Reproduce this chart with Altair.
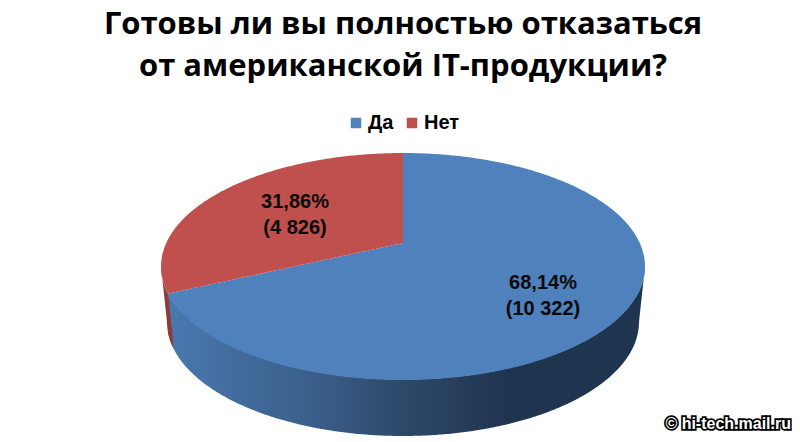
import numpy as np
import pandas as pd
import altair as alt

TITLE_LINES = ["Готовы ли вы полностью отказаться", "от американской IT-продукции?"]
CATEGORIES = ["Да", "Нет"]
SHARES = [68.14, 31.86]
COUNTS = ["10 322", "4 826"]
COLORS = ["#4F81BD", "#C0504D"]
CREDIT = "© hi-tech.mail.ru"

# Projection of the tilted disc, in picture units
CX, CY, RX, RY = 403.0, 266.5, 242.0, 113.5
AX, AY = 403.0, 243.0            # apex of the slices
LCY, LRX, LRY = 322.0, 236.0, 114.0  # rim of the lower edge
FORESHORTEN = 0.905              # perspective squeeze of the slice angle
t_cut = np.radians(SHARES[1] * 3.6 * FORESHORTEN)
BX, BY = CX - RX * np.sin(t_cut), CY - RY * np.cos(t_cut)
EPS = 0.01


def top(x):
    return CY - RY * np.sqrt(np.clip(1 - ((x - CX) / RX) ** 2, 0, 1))


def bot(x):
    return CY + RY * np.sqrt(np.clip(1 - ((x - CX) / RX) ** 2, 0, 1))


def low(x):
    x = np.asarray(x, float)
    inner = LCY + LRY * np.sqrt(np.clip(1 - ((x - CX) / LRX) ** 2, 0, 1))
    left = CY + (x - (CX - RX)) / (RX - LRX) * (LCY - CY)
    right = CY + ((CX + RX) - x) / (RX - LRX) * (LCY - CY)
    return np.where(x < CX - LRX, left, np.where(x > CX + LRX, right, inner))


def cut(x):
    return AY + (x - AX) / (BX - AX) * (BY - AY)


def xs(a, b, n=360):
    u = np.linspace(-np.pi, 0, n)
    v = CX + RX * np.cos(u)
    v = v[(v > a + EPS) & (v < b - EPS)]
    return np.concatenate([[a], v, [b]])


# slice tops
left_b = xs(BX, CX)
right_b = xs(CX + EPS, CX + RX)
blue = pd.DataFrame({
    "x": np.concatenate([left_b, right_b]),
    "y": np.concatenate([cut(left_b), top(right_b)]),
    "y2": np.concatenate([bot(left_b), bot(right_b)]),
})
blue["s"] = CATEGORIES[0]

xr = xs(CX - RX, CX)
red = pd.DataFrame({"x": xr, "y": top(xr), "y2": np.where(xr < BX, bot(xr), cut(xr))})
red["s"] = CATEGORIES[1]

# side wall
xw = xs(BX, CX + RX)
wall = pd.DataFrame({"x": xw, "y": bot(xw) - 0.5, "y2": low(xw)})

END = BX + 5
xv = np.concatenate([xs(CX - RX, BX, 360), np.linspace(BX, END, 8)[1:]])
inner_cut = BY + (xv - BX) / (END - BX) * 46
wall_r = pd.DataFrame({"x": xv, "y": np.where(xv <= BX, bot(xv), inner_cut), "y2": low(xv)})

X = alt.X("x:Q", axis=None, scale=alt.Scale(domain=[8, 792], nice=False, zero=False))
Y = alt.Y("y:Q", axis=None, scale=alt.Scale(domain=[442, 8], nice=False, zero=False))

wall_grad = alt.Gradient(
    gradient="linear", x1=0, x2=1, y1=0, y2=0,
    stops=[
        alt.GradientStop(offset=0, color="#4A78AE"),
        alt.GradientStop(offset=0.3, color="#3A5F8B"),
        alt.GradientStop(offset=0.5, color="#2D4868"),
        alt.GradientStop(offset=0.72, color="#1F344F"),
        alt.GradientStop(offset=1, color="#1F344F"),
    ],
)
wall_layer = alt.Chart(wall).mark_area(color=wall_grad).encode(x=X, y=Y, y2="y2:Q")
wall_r_layer = alt.Chart(wall_r).mark_area(color="#8F3A38").encode(x=X, y=Y, y2="y2:Q")

legend = alt.Legend(
    title=None, orient="none", legendX=338, legendY=105, direction="horizontal",
    symbolType="square", symbolSize=110, symbolStrokeWidth=0, symbolOpacity=1,
    labelFont="Liberation Sans", labelFontWeight="bold", labelFontSize=20, labelColor="#000000",
    columns=2, columnPadding=8, labelOffset=2,
)
color = alt.Color("s:N", legend=legend,
                  scale=alt.Scale(domain=CATEGORIES, range=COLORS))
tops = [
    alt.Chart(d).mark_area().encode(x=X, y=Y, y2="y2:Q", color=color)
    for d in (blue, red)
]


def label(i, px, py):
    txt = f"{SHARES[i]:.2f}".replace(".", ",") + "%\n(" + COUNTS[i] + ")"
    return alt.Chart(pd.DataFrame({"t": [txt]})).mark_text(
        font="Liberation Sans", fontWeight="bold", fontSize=20, color="#0A0A0A",
        lineBreak="\n", lineHeight=26, align="center", baseline="middle",
    ).encode(text="t:N", x=alt.value(px - 8), y=alt.value(py - 8))


def title_line(i, base):
    return alt.Chart(pd.DataFrame({"t": [TITLE_LINES[i]]})).mark_text(
        font="Open Sans", fontWeight="bold", fontSize=31, color="#000000",
        align="center", baseline="alphabetic",
    ).encode(text="t:N", x=alt.value(403 - 8), y=alt.value(base - 8))


credit_df = pd.DataFrame({"t": [CREDIT]})
credit_bg = alt.Chart(credit_df).mark_text(
    font="Liberation Sans", fontWeight="bold", fontSize=16, align="right", baseline="middle",
    color="#000000", stroke="#000000", strokeWidth=3.5,
).encode(text="t:N", x=alt.value(791 - 8), y=alt.value(424 - 8))
credit_fg = alt.Chart(credit_df).mark_text(
    font="Liberation Sans", fontWeight="bold", fontSize=16, align="right", baseline="middle",
    color="#FFFFFF",
).encode(text="t:N", x=alt.value(791 - 8), y=alt.value(424 - 8))

chart = alt.layer(
    wall_layer, wall_r_layer, *tops,
    label(1, 295, 202), label(0, 543, 283),
    title_line(0, 34), title_line(1, 76), credit_bg, credit_fg,
).properties(width=784, height=434, padding=0, background="#FFFFFF").configure_view(stroke=None)

chart.save("out.html", embed_options={"renderer": "svg", "actions": False})
